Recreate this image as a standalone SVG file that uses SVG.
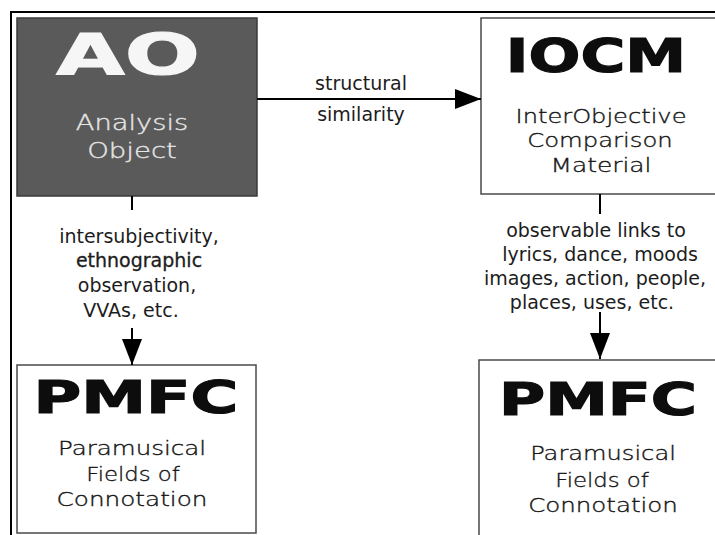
<svg xmlns="http://www.w3.org/2000/svg" width="715" height="535" viewBox="0 0 715 535">
<style>
  .frame { stroke: #000; stroke-width: 2; fill: none; }
  .box { fill: #fff; stroke: #4a4a4a; stroke-width: 1.5; }
  .dark { fill: #5a5a5a; stroke: #3a3a3a; stroke-width: 1.5; }
  .title { font-family: "DejaVu Sans", sans-serif; font-weight: bold; text-anchor: middle; fill: #0d0d0d; stroke: #0d0d0d; stroke-width: 1.2; }
  .sub { font-family: "DejaVu Sans", sans-serif; font-weight: 200; font-size: 19px; text-anchor: middle; fill: #151515; stroke: #151515; stroke-width: 0.35; }
  .light { fill: #e6e6e6; stroke: #e6e6e6; font-size: 21px; }
  .white { fill: #f6f6f6; stroke: #f6f6f6; }
  .lbl { font-family: "DejaVu Sans", sans-serif; font-size: 19px; text-anchor: middle; fill: #1c1c1c; }
  .conn { stroke: #000; stroke-width: 2; fill: none; }
</style>
<defs>
  <marker id="arr" markerUnits="userSpaceOnUse" markerWidth="26" markerHeight="20" refX="26" refY="10" orient="auto">
    <path d="M0,0 L26,10 L0,20 z" fill="#000"/>
  </marker>
</defs>
<rect width="715" height="535" fill="#fff"/>
<path class="frame" d="M11,535 L11,12 L715,12"/>

<g id="node-ao">
  <rect class="dark" x="17" y="18" width="240" height="178"/>
  <text class="title white" transform="translate(128,75) scale(1.55,1)" font-size="57">AO</text>
  <text class="sub light" transform="translate(132,130) scale(1.3,1)">Analysis</text>
  <text class="sub light" transform="translate(132,158) scale(1.31,1)">Object</text>
</g>

<g id="node-iocm">
  <rect class="box" x="481" y="18" width="260" height="176"/>
  <text class="title" transform="translate(596,72) scale(1.3,1)" font-size="47">IOCM</text>
  <text class="sub" transform="translate(601,123) scale(1.27,1)">InterObjective</text>
  <text class="sub" transform="translate(600,147) scale(1.28,1)">Comparison</text>
  <text class="sub" transform="translate(601,172) scale(1.31,1)">Material</text>
</g>

<g id="node-pmfc-left">
  <rect class="box" x="17" y="365" width="239" height="168"/>
  <text class="title" transform="translate(136,413) scale(1.48,1)" font-size="44">PMFC</text>
  <text class="sub" transform="translate(132,455) scale(1.29,1)">Paramusical</text>
  <text class="sub" transform="translate(133,481) scale(1.2,1)">Fields of</text>
  <text class="sub" transform="translate(132,506) scale(1.3,1)">Connotation</text>
</g>

<g id="node-pmfc-right">
  <rect class="box" x="479" y="360" width="260" height="200"/>
  <text class="title" transform="translate(598,415) scale(1.43,1)" font-size="44">PMFC</text>
  <text class="sub" transform="translate(603,460) scale(1.27,1)">Paramusical</text>
  <text class="sub" transform="translate(602,487) scale(1.2,1)">Fields of</text>
  <text class="sub" transform="translate(603,512) scale(1.29,1)">Connotation</text>
</g>

<g id="connectors">
  <line class="conn" x1="257" y1="99" x2="481" y2="99" marker-end="url(#arr)"/>
  <line class="conn" x1="132" y1="196" x2="132" y2="210"/>
  <line class="conn" x1="132" y1="328" x2="132" y2="365" marker-end="url(#arr)"/>
  <line class="conn" x1="600" y1="194" x2="600" y2="214"/>
  <line class="conn" x1="600" y1="312" x2="600" y2="359" marker-end="url(#arr)"/>
  <text class="lbl" x="361" y="90">structural</text>
  <text class="lbl" x="361" y="121">similarity</text>
  <text class="lbl" x="139" y="243">intersubjectivity,</text>
  <text class="lbl" x="139" y="267" stroke="#1c1c1c" stroke-width="0.3">ethnographic</text>
  <text class="lbl" x="137" y="292">observation,</text>
  <text class="lbl" x="131" y="317">VVAs, etc.</text>
  <text class="lbl" x="596" y="237">observable links to</text>
  <text class="lbl" x="600" y="261">lyrics, dance, moods</text>
  <text class="lbl" x="595" y="285">images, action, people,</text>
  <text class="lbl" x="592" y="309">places, uses, etc.</text>
</g>
</svg>
